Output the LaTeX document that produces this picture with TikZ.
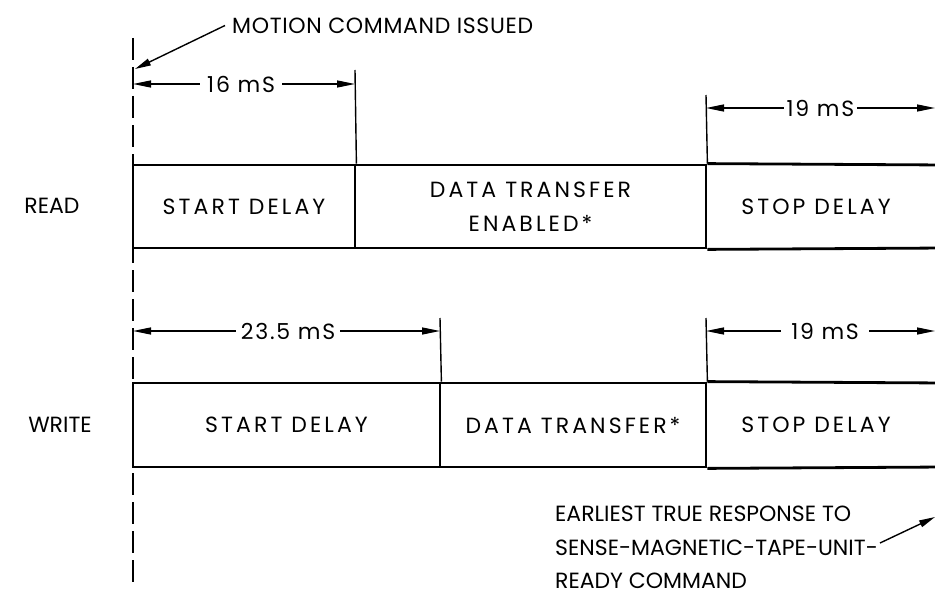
\documentclass[tikz,border=0pt]{standalone}
\usepackage{fontspec}
\setmainfont{Poppins}
\newfontfamily\boxfont[LetterSpace=14]{Poppins}
\newfontfamily\dimfont[LetterSpace=8]{Poppins}
\newfontfamily\motionfont[LetterSpace=3]{Poppins}
\usetikzlibrary{arrows.meta}
\begin{document}
\begin{tikzpicture}[x=1pt,y=-1pt,
  every node/.style={font=\fontsize{22}{33.5}\selectfont, inner sep=0pt},
  cell/.style={draw, line width=2.8pt, minimum height=83pt, align=center, font=\boxfont\fontsize{22}{33.5}\selectfont},
  celltext/.style={align=center, font=\boxfont\fontsize{22}{33.5}\selectfont},
  lbl/.style={font=\fontsize{22}{33.5}\selectfont},
  dim/.style={line width=1.4pt, {Triangle[length=18pt,width=7pt]}-{Triangle[length=18pt,width=7pt]}},
  dimlabel/.style={fill=white, font=\dimfont\fontsize{22}{33.5}\selectfont},
  tick/.style={line width=1.4pt},
  lead/.style={line width=1.4pt, -{Triangle[length=16pt,width=7pt]}},
  guide/.style={line width=1.4pt, dash pattern=on 22pt off 7pt},
  box/.style={line width=2.8pt}]
\useasboundingbox (0,0) rectangle (935,610);
\clip (0,0) rectangle (935,610);
\fill[white] (0,0) rectangle (935,610);

% left guide line
\coordinate (g0) at (133,38);
\coordinate (g1) at (133,582);
\draw[guide] (g0) -- (g1);

% READ row
\node[lbl] (readlbl) at (52,206) {READ};
\node[cell, minimum width=222pt] (rs) at (244,206.5) {START DELAY};
\node[cell, minimum width=351pt] (rd) at (530.5,206.5) {DATA TRANSFER\\ENABLED*};
\node[celltext] (rp) at (816,206.5) {STOP DELAY};
\coordinate (rpne) at (945,165);
\coordinate (rpse) at (945,248);
\draw[box] (rd.north east) -- (rpne) (rd.south east) -- (rpse);

% WRITE row
\node[lbl] (writelbl) at (60,425) {WRITE};
\node[cell, minimum width=307pt, minimum height=84pt] (ws) at (286.5,425) {START DELAY};
\node[cell, minimum width=266pt, minimum height=84pt] (wd) at (573,425) {DATA TRANSFER*};
\node[celltext] (wp) at (816,425) {STOP DELAY};
\coordinate (wpne) at (945,383);
\coordinate (wpse) at (945,467);
\draw[box] (wd.north east) -- (wpne) (wd.south east) -- (wpse);

% motion command
\node[anchor=west, font=\motionfont\fontsize{22}{33.5}\selectfont] (motion) at (232,25.5) {MOTION COMMAND ISSUED};
\coordinate (mtip) at (135,69);
\draw[lead] ([xshift=-7pt]motion.west) -- (mtip);

% 16 mS
\coordinate (t16) at (355,70);
\draw[tick] (t16) -- (rs.north east);
\coordinate (d16a) at (133,84);
\coordinate (d16b) at (355,84);
\draw[dim] (d16a) -- node[dimlabel, inner xsep=7pt, pos=0.487] (l16) {16 mS} (d16b);

% 19 mS read
\coordinate (t19r) at (706,95);
\draw[tick] (t19r) -- (rd.north east);
\coordinate (d19ra) at (706,108);
\coordinate (d19rb) at (935,108);
\draw[dim] (d19ra) -- node[dimlabel, inner xsep=3pt, pos=0.5] (l19r) {19 mS} (d19rb);

% 23.5 mS
\coordinate (t235) at (440,318);
\draw[tick] (t235) -- (ws.north east);
\coordinate (d235a) at (133,331);
\coordinate (d235b) at (440,331);
\draw[dim] (d235a) -- node[dimlabel, inner xsep=5pt, pos=0.505] (l235) {23.5 mS} (d235b);

% 19 mS write
\coordinate (t19w) at (706,318);
\draw[tick] (t19w) -- (wd.north east);
\coordinate (d19wa) at (706,331);
\coordinate (d19wb) at (935,331);
\draw[dim] (d19wa) -- node[dimlabel, inner xsep=10pt, pos=0.52] (l19w) {19 mS} (d19wb);

% earliest response
\node[anchor=north west, align=left] (early) at (555,506) {EARLIEST TRUE RESPONSE TO\\SENSE-MAGNETIC-TAPE-UNIT-\\READY COMMAND};
\coordinate (etail) at (880,543);
\coordinate (etip) at (935,517);
\draw[lead] (etail) -- (etip);
\end{tikzpicture}
\end{document}
